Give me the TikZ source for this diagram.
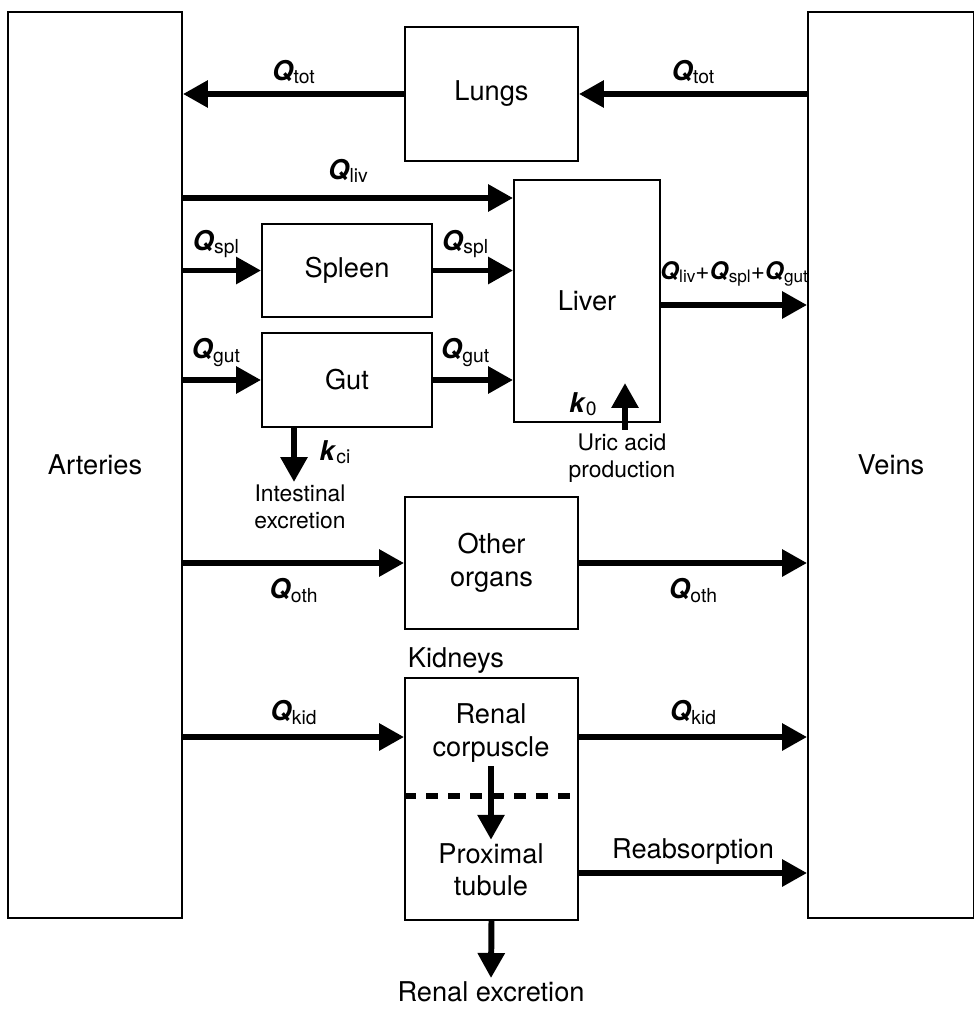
\documentclass[tikz,border=0pt]{standalone}
\usepackage{fontspec}
\setmainfont{TeX Gyre Heros}
\usepackage{tikz}
\usetikzlibrary{positioning,arrows.meta}
\definecolor{colorink}{RGB}{0,0,0}
\newcommand{\flowQ}[1]{\textbf{\textit{Q}}\raisebox{-0.25ex}{\fontsize{11}{13}\selectfont #1}}
\newcommand{\rateK}[1]{\textbf{\textit{k}}\raisebox{-0.25ex}{\fontsize{11}{13}\selectfont #1}}

\begin{document}
\begin{tikzpicture}[
    x=0.02cm, y=-0.02cm,
    font={\fontsize{15.5}{18.5}\selectfont},
    base/.style={draw=colorink,line width=1.1pt,text=colorink,align=center,rectangle,inner sep=0pt},
    txt/.style={text=colorink,align=center,inner sep=2pt},
    small/.style={txt,font={\fontsize{13}{15.5}\selectfont}},
    flow/.style={draw=colorink,line width=3.4pt,-{Triangle[length=0.5cm,width=0.52cm]}},
    divider/.style={draw=colorink,line width=3pt,dash pattern=on 0.24cm off 0.2cm},
]

    % Frame
    \useasboundingbox (0,0) rectangle (973,1010);

    % Nodes
    \node[base,minimum width=3.48cm,minimum height=18.12cm] (arteries) at (95,465)    {Arteries};
    \node[base,minimum width=3.32cm,minimum height=18.12cm] (veins)    at (891,465)   {Veins};
    \node[base,minimum width=3.46cm,minimum height=2.68cm]  (lungs)    at (491.5,94)  {Lungs};
    \node[base,minimum width=2.92cm,minimum height=4.84cm]  (liver)    at (587,301)   {Liver};
    \node[base,minimum width=3.4cm,minimum height=1.86cm]   (spleen)   at (347,270.5) {Spleen};
    \node[base,minimum width=3.4cm,minimum height=1.88cm]   (gut)      at (347,380)   {Gut};
    \node[base,minimum width=3.46cm,minimum height=2.64cm]  (other)    at (491.5,563) {Other\\organs};
    \node[base,minimum width=3.46cm,minimum height=4.84cm]  (kidneys)  at (491.5,799) {};

    % Text
    \node[txt,anchor=south west] (kidlabel) at (kidneys.north west) {Kidneys};
    \node[txt] (corpuscle)  at (491,733) {Renal\\corpuscle};
    \node[txt] (proximal)   at (491,870) {Proximal\\tubule};
    \node[txt] (excretion)  at (491,992) {Renal excretion};
    \node[small] (intestinal) at (300,507) {Intestinal\\excretion};
    \node[small] (uric)       at (622,458) {Uric acid\\production};
    \node[txt] (kcilab) at (335,452) {\rateK{ci}};
    \node[txt] (k0lab)  at (583,404) {\rateK{0}};

    % Arrow ends
    \coordinate (kcitip) at (294,482);
    \coordinate (k0tip)  at (625,383);

    % Arrows
    \draw[flow] (lungs.west) -- node[txt,above=2pt] (qtotart) {\flowQ{tot}} (arteries.east |- lungs.west);
    \draw[flow] (veins.west |- lungs.east) -- node[txt,above=2pt] (qtotvein) {\flowQ{tot}} (lungs.east);
    \draw[flow] (arteries.east |- 0,198) -- node[txt,above=5pt] (qliv) {\flowQ{liv}} (liver.west |- 0,198);
    \draw[flow] (arteries.east |- spleen.west) -- node[txt,above=3.5pt,pos=0.42] (qsplin) {\flowQ{spl}} (spleen.west);
    \draw[flow] (spleen.east) -- node[txt,above=3.5pt,pos=0.4] (qsplout) {\flowQ{spl}} (liver.west |- spleen.east);
    \draw[flow] (arteries.east |- gut.west) -- node[txt,above=4pt,pos=0.42] (qgutin) {\flowQ{gut}} (gut.west);
    \draw[flow] (gut.east) -- node[txt,above=4pt,pos=0.4] (qgutout) {\flowQ{gut}} (liver.west |- gut.east);
    \draw[flow] (liver.east |- 0,305) -- node[txt,above=7pt] (qsum) {\scalebox{0.89}{\flowQ{liv}+\flowQ{spl}+\flowQ{gut}}} (veins.west |- 0,305);
    \draw[flow] (gut.south -| kcitip) -- (kcitip);
    \draw[flow] (uric.north -| k0tip) -- (k0tip);
    \draw[flow] (arteries.east |- other.west) -- node[txt,below=5pt] (qothin) {\flowQ{oth}} (other.west);
    \draw[flow] (other.east) -- node[txt,below=5pt] (qothout) {\flowQ{oth}} (veins.west |- other.east);
    \draw[flow] (arteries.east |- 0,737) -- node[txt,above=3.5pt] (qkidin) {\flowQ{kid}} (kidneys.west |- 0,737);
    \draw[flow] (kidneys.east |- 0,737) -- node[txt,above=3.5pt] (qkidout) {\flowQ{kid}} (veins.west |- 0,737);
    \draw[flow] (kidneys.east |- 0,873) -- node[txt,above=1pt] (reabs) {Reabsorption} (veins.west |- 0,873);

    % Kidney inside
    \draw[divider] (kidneys.west |- 0,796) -- (kidneys.east |- 0,796);
    \draw[flow] (corpuscle) -- (proximal);
    \draw[flow] (kidneys.south) -- (excretion.north);

\end{tikzpicture}
\end{document}
